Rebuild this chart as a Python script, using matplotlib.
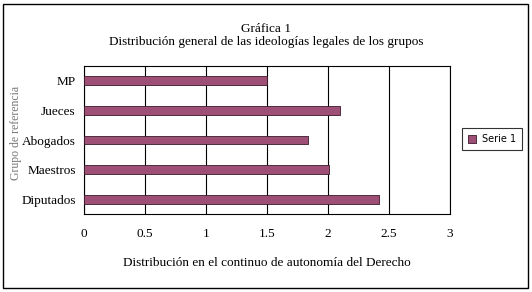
import matplotlib
matplotlib.use("Agg")
import matplotlib.pyplot as plt
from matplotlib.patches import Rectangle

categories = ["Diputados", "Maestros", "Abogados", "Jueces", "MP"]
values = [2.42, 2.01, 1.84, 2.10, 1.50]
xticks = [0, 0.5, 1, 1.5, 2, 2.5, 3]
xticklabels = ["0", "0.5", "1", "1.5", "2", "2.5", "3"]

W, H = 532, 292
fig = plt.figure(figsize=(W/100, H/100), dpi=100)
plt.rcParams['font.family'] = ['Liberation Serif', 'DejaVu Serif']

# outer border
fig.patches.append(Rectangle((3/W, 4/H), 525/W, 284/H, transform=fig.transFigure,
                             fill=False, edgecolor='black', linewidth=1.0))

ax = fig.add_axes([84/W, 1 - 214/H, (450-84)/W, (214-66)/H])
ypos = list(range(len(categories)))
ax.barh(ypos, values, height=0.3, color='#9E4F75', edgecolor='#3a1a2a', linewidth=0.6,
        label='Serie 1', zorder=3)
ax.set_xlim(0, 3)
ax.set_ylim(-0.5, len(categories) - 0.5)
ax.set_xticks(xticks)
ax.set_xticklabels(xticklabels, fontsize=9.5)
ax.set_yticks(ypos)
ax.set_yticklabels(categories, fontsize=9.5)
ax.tick_params(axis='both', length=0, pad=6)
ax.tick_params(axis='x', pad=10)
ax.xaxis.grid(True, color='black', linewidth=0.8, zorder=0)
for s in ax.spines.values():
    s.set_linewidth(0.8)

ax.set_xlabel("Distribución en el continuo de autonomía del Derecho", fontsize=9.5, labelpad=12)
fig.text(16/W, 1 - 133/H, "Grupo de referencia", rotation=90, ha='center', va='center',
         fontsize=8.5, color='#777777')

fig.text(0.5, 1 - 29/H, "Gráfica 1", ha='center', va='center', fontsize=9.5)
fig.text(0.5, 1 - 42/H, "Distribución general de las ideologías legales de los grupos",
         ha='center', va='center', fontsize=9.5)

leg = ax.legend(loc='center left', bbox_to_anchor=(457/W, 1 - 139/H),
                bbox_transform=fig.transFigure, frameon=True, fancybox=False,
                edgecolor='black', prop={'family': 'DejaVu Sans', 'size': 7},
                handlelength=0.9, handleheight=0.9, borderpad=0.6, handletextpad=0.6)
leg.get_frame().set_linewidth(0.8)

fig.savefig("out.png", dpi=100)
